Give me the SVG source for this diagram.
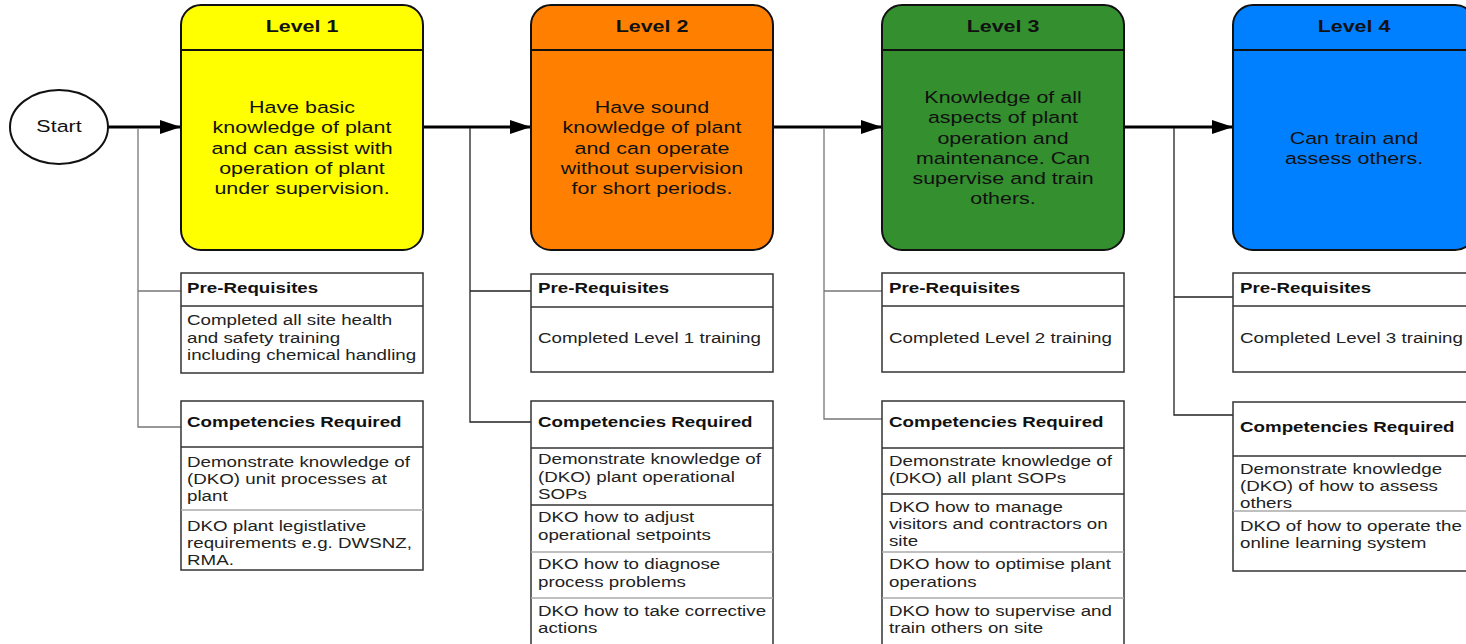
<svg xmlns="http://www.w3.org/2000/svg" width="1466" height="644" viewBox="0 0 1466 644">
<defs>
<style>
.lvbox{stroke:#111;stroke-width:2}
.hdr{stroke:#111;stroke-width:2}
.lt{font-family:"Liberation Sans",Arial,sans-serif;font-size:16.5px;fill:#111;text-anchor:middle}
.lth{font-family:"Liberation Sans",Arial,sans-serif;font-size:16.5px;font-weight:bold;fill:#111;text-anchor:middle}
.tb{fill:#fff;stroke:#333;stroke-width:1.5}
.td{stroke:#333;stroke-width:1.5}
.tdl{stroke:#aaa;stroke-width:1.5}
.tt{font-family:"Liberation Sans",Arial,sans-serif;font-size:15px;fill:#222}
.tth{font-family:"Liberation Sans",Arial,sans-serif;font-size:15px;font-weight:bold;fill:#111}
.main{stroke:#000;stroke-width:3;fill:none}
.br{stroke:#777;stroke-width:1.3;fill:none}
.brd{stroke:#222;stroke-width:1.3;fill:none}
</style>
<marker id="arr" markerUnits="userSpaceOnUse" markerWidth="22" markerHeight="16" refX="21" refY="8" orient="auto">
<path d="M0,1 L21,8 L0,15 Z" fill="#000"/>
</marker>
</defs>

<g id="connectors">
<line class="main" x1="108" y1="127" x2="181" y2="127" marker-end="url(#arr)"/>
<line class="main" x1="423" y1="127" x2="531" y2="127" marker-end="url(#arr)"/>
<line class="main" x1="773" y1="127" x2="882" y2="127" marker-end="url(#arr)"/>
<line class="main" x1="1124" y1="127" x2="1233" y2="127" marker-end="url(#arr)"/>
<path class="br" d="M138,128 V427 H181 M138,291 H181"/>
<path class="brd" d="M470,128 V422 H531 M470,291 H531"/>
<path class="br" d="M824,128 V419 H882 M824,291 H882"/>
<path class="brd" d="M1174,128 V415 H1233 M1174,297 H1233"/>
</g>

<g id="start">
<ellipse cx="59" cy="127" rx="49" ry="37" fill="#fff" stroke="#111" stroke-width="2"/>
<text class="lt" transform="translate(59 0) scale(1.3 1)"><tspan x="0" y="132">Start</tspan></text>
</g>

<g id="level1">
<rect class="lvbox" x="181" y="5" width="242" height="245" rx="20" fill="#FFFF00"/>
<line class="hdr" x1="181" y1="50" x2="423" y2="50"/>
<text class="lth" transform="translate(302 0) scale(1.3 1)"><tspan x="0" y="32">Level 1</tspan></text>
<text class="lt" transform="translate(302 0) scale(1.3 1)"><tspan x="0" y="113">Have basic</tspan><tspan x="0" y="133">knowledge of plant</tspan><tspan x="0" y="154">and can assist with</tspan><tspan x="0" y="174">operation of plant</tspan><tspan x="0" y="194">under supervision.</tspan></text>
</g>

<g id="level2">
<rect class="lvbox" x="531" y="5" width="242" height="245" rx="20" fill="#FF8000"/>
<line class="hdr" x1="531" y1="50" x2="773" y2="50"/>
<text class="lth" transform="translate(652 0) scale(1.3 1)"><tspan x="0" y="32">Level 2</tspan></text>
<text class="lt" transform="translate(652 0) scale(1.3 1)"><tspan x="0" y="113">Have sound</tspan><tspan x="0" y="133">knowledge of plant</tspan><tspan x="0" y="154">and can operate</tspan><tspan x="0" y="174">without supervision</tspan><tspan x="0" y="194">for short periods.</tspan></text>
</g>

<g id="level3">
<rect class="lvbox" x="882" y="5" width="242" height="245" rx="20" fill="#348F2F"/>
<line class="hdr" x1="882" y1="50" x2="1124" y2="50"/>
<text class="lth" transform="translate(1003 0) scale(1.3 1)"><tspan x="0" y="32">Level 3</tspan></text>
<text class="lt" transform="translate(1003 0) scale(1.3 1)"><tspan x="0" y="103">Knowledge of all</tspan><tspan x="0" y="123">aspects of plant</tspan><tspan x="0" y="144">operation and</tspan><tspan x="0" y="164">maintenance. Can</tspan><tspan x="0" y="184">supervise and train</tspan><tspan x="0" y="204">others.</tspan></text>
</g>

<g id="level4">
<rect class="lvbox" x="1233" y="5" width="242" height="245" rx="20" fill="#0080FF"/>
<line class="hdr" x1="1233" y1="50" x2="1475" y2="50"/>
<text class="lth" transform="translate(1354 0) scale(1.3 1)"><tspan x="0" y="32">Level 4</tspan></text>
<text class="lt" transform="translate(1354 0) scale(1.3 1)"><tspan x="0" y="144">Can train and</tspan><tspan x="0" y="164">assess others.</tspan></text>
</g>

<g id="pre1">
<rect class="tb" x="181" y="273" width="242" height="100"/>
<line class="td" x1="181" y1="306" x2="423" y2="306"/>
<text class="tth" transform="translate(187 0) scale(1.25 1)"><tspan x="0" y="293">Pre-Requisites</tspan></text>
<text class="tt" transform="translate(187 0) scale(1.25 1)"><tspan x="0" y="325">Completed all site health</tspan><tspan x="0" y="343">and safety training</tspan><tspan x="0" y="360">including chemical handling</tspan></text>
</g>

<g id="comp1">
<rect class="tb" x="181" y="401" width="242" height="169"/>
<line class="td" x1="181" y1="447" x2="423" y2="447"/>
<line class="tdl" x1="181" y1="510" x2="423" y2="510"/>
<text class="tth" transform="translate(187 0) scale(1.25 1)"><tspan x="0" y="427">Competencies Required</tspan></text>
<text class="tt" transform="translate(187 0) scale(1.25 1)"><tspan x="0" y="467">Demonstrate knowledge of</tspan><tspan x="0" y="484">(DKO) unit processes at</tspan><tspan x="0" y="501">plant</tspan><tspan x="0" y="531">DKO plant legistlative</tspan><tspan x="0" y="548">requirements e.g. DWSNZ,</tspan><tspan x="0" y="565">RMA.</tspan></text>
</g>

<g id="pre2">
<rect class="tb" x="531" y="274" width="242" height="98"/>
<line class="td" x1="531" y1="307" x2="773" y2="307"/>
<text class="tth" transform="translate(538 0) scale(1.25 1)"><tspan x="0" y="293">Pre-Requisites</tspan></text>
<text class="tt" transform="translate(538 0) scale(1.25 1)"><tspan x="0" y="343">Completed Level 1 training</tspan></text>
</g>

<g id="comp2">
<rect class="tb" x="531" y="401" width="242" height="260"/>
<line class="td" x1="531" y1="448" x2="773" y2="448"/>
<line class="td" x1="531" y1="505" x2="773" y2="505"/>
<line class="tdl" x1="531" y1="552" x2="773" y2="552"/>
<line class="tdl" x1="531" y1="598" x2="773" y2="598"/>
<text class="tth" transform="translate(538 0) scale(1.25 1)"><tspan x="0" y="427">Competencies Required</tspan></text>
<text class="tt" transform="translate(538 0) scale(1.25 1)"><tspan x="0" y="464">Demonstrate knowledge of</tspan><tspan x="0" y="482">(DKO) plant operational</tspan><tspan x="0" y="499">SOPs</tspan><tspan x="0" y="522">DKO how to adjust</tspan><tspan x="0" y="540">operational setpoints</tspan><tspan x="0" y="569">DKO how to diagnose</tspan><tspan x="0" y="587">process problems</tspan><tspan x="0" y="616">DKO how to take corrective</tspan><tspan x="0" y="633">actions</tspan></text>
</g>

<g id="pre3">
<rect class="tb" x="882" y="273" width="242" height="99"/>
<line class="td" x1="882" y1="306" x2="1124" y2="306"/>
<text class="tth" transform="translate(889 0) scale(1.25 1)"><tspan x="0" y="293">Pre-Requisites</tspan></text>
<text class="tt" transform="translate(889 0) scale(1.25 1)"><tspan x="0" y="343">Completed Level 2 training</tspan></text>
</g>

<g id="comp3">
<rect class="tb" x="882" y="401" width="242" height="260"/>
<line class="td" x1="882" y1="448" x2="1124" y2="448"/>
<line class="td" x1="882" y1="494" x2="1124" y2="494"/>
<line class="tdl" x1="882" y1="552" x2="1124" y2="552"/>
<line class="tdl" x1="882" y1="598" x2="1124" y2="598"/>
<text class="tth" transform="translate(889 0) scale(1.25 1)"><tspan x="0" y="427">Competencies Required</tspan></text>
<text class="tt" transform="translate(889 0) scale(1.25 1)"><tspan x="0" y="466">Demonstrate knowledge of</tspan><tspan x="0" y="483">(DKO) all plant SOPs</tspan><tspan x="0" y="512">DKO how to manage</tspan><tspan x="0" y="529">visitors and contractors on</tspan><tspan x="0" y="546">site</tspan><tspan x="0" y="569">DKO how to optimise plant</tspan><tspan x="0" y="587">operations</tspan><tspan x="0" y="616">DKO how to supervise and</tspan><tspan x="0" y="633">train others on site</tspan></text>
</g>

<g id="pre4">
<rect class="tb" x="1233" y="273" width="260" height="99"/>
<line class="td" x1="1233" y1="306" x2="1493" y2="306"/>
<text class="tth" transform="translate(1240 0) scale(1.25 1)"><tspan x="0" y="293">Pre-Requisites</tspan></text>
<text class="tt" transform="translate(1240 0) scale(1.25 1)"><tspan x="0" y="343">Completed Level 3 training</tspan></text>
</g>

<g id="comp4">
<rect class="tb" x="1233" y="402" width="260" height="169"/>
<line class="td" x1="1233" y1="456" x2="1493" y2="456"/>
<line class="tdl" x1="1233" y1="511" x2="1493" y2="511"/>
<text class="tth" transform="translate(1240 0) scale(1.25 1)"><tspan x="0" y="432">Competencies Required</tspan></text>
<text class="tt" transform="translate(1240 0) scale(1.25 1)"><tspan x="0" y="474">Demonstrate knowledge</tspan><tspan x="0" y="491">(DKO) of how to assess</tspan><tspan x="0" y="508">others</tspan><tspan x="0" y="531">DKO of how to operate the</tspan><tspan x="0" y="548">online learning system</tspan></text>
</g>
</svg>
